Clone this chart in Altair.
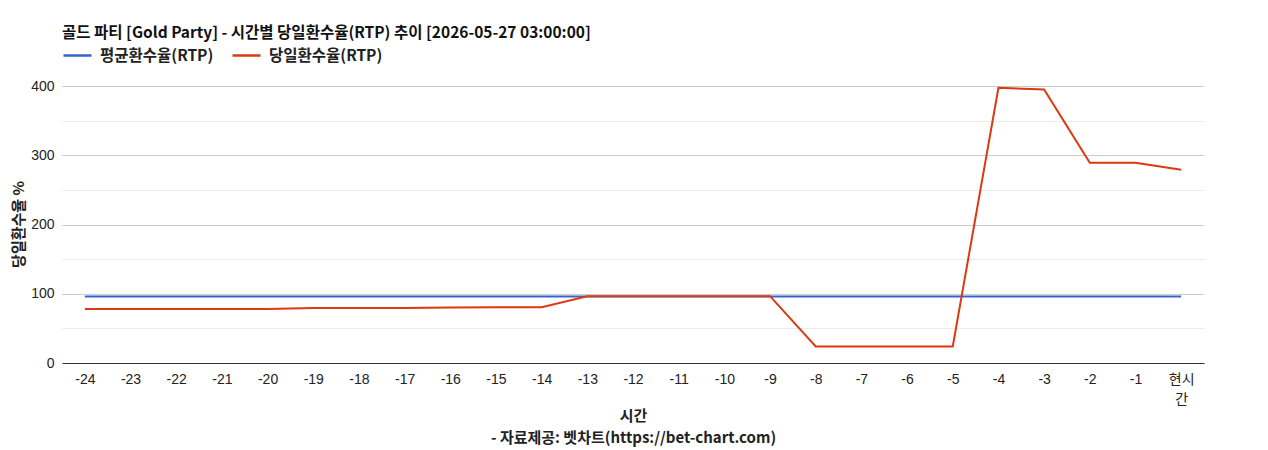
import altair as alt
import pandas as pd

hours = ["-24", "-23", "-22", "-21", "-20", "-19", "-18", "-17", "-16", "-15",
         "-14", "-13", "-12", "-11", "-10", "-9", "-8", "-7", "-6", "-5",
         "-4", "-3", "-2", "-1", "현시간"]
avg_rtp = [96] * 25
day_rtp = [78, 78, 78, 78, 78, 79.5, 79.5, 79.5, 80, 80.5,
           80.5, 96.5, 96.5, 96.5, 96.5, 96.5, 24, 24, 24, 24,
           397.5, 395, 289, 289, 279]
series_names = ["평균환수율(RTP)", "당일환수율(RTP)"]
series_colors = ["#3366cc", "#dc3912"]

title_text = "골드 파티 [Gold Party] - 시간별 당일환수율(RTP) 추이 [2026-05-27 03:00:00]"
x_title = ["시간", "- 자료제공: 벳차트(https://bet-chart.com)"]
y_title = "당일환수율 %"

rows = []
for h, a, d in zip(hours, avg_rtp, day_rtp):
    rows.append({"hour": h, "series": series_names[0], "value": a})
    rows.append({"hour": h, "series": series_names[1], "value": d})
df = pd.DataFrame(rows)

KR = "Noto Sans CJK KR"
LAT = "Liberation Sans, Noto Sans CJK KR"

W, H = 1142, 277

chart = alt.Chart(df).mark_line(strokeWidth=2).encode(
    x=alt.X("hour:N", sort=hours,
            axis=alt.Axis(title=x_title, labelAngle=0, ticks=False, grid=False,
                          domainColor="#333333", domainWidth=1,
                          labelFont=LAT, labelFontSize=14, labelColor="#222222",
                          labelPadding=9,
                          labelExpr="datum.label == '현시간' ? ['현시', '간'] : datum.label",
                          labelLineHeight=20,
                          titleFont=KR, titleFontSize=15, titleFontWeight="bold",
                          titleColor="#222222", titleLineHeight=22,
                          titleY=52, titleBaseline="middle")),
    y=alt.Y("value:Q", scale=alt.Scale(domain=[0, 400], nice=False),
            axis=alt.Axis(title=y_title, values=list(range(0, 401, 50)),
                          labelExpr="datum.value % 100 == 0 ? datum.label : ''",
                          ticks=False, domain=False,
                          gridColor={"condition": {"test": "datum.value % 100 === 0", "value": "#cccccc"}, "value": "#ebebeb"},
                          labelFont=LAT, labelFontSize=14, labelColor="#222222",
                          labelPadding=8,
                          titleFont=KR, titleFontSize=15, titleFontWeight="bold",
                          titleColor="#222222", titleX=-44, titleY=138,
                          titleAngle=-90, titleAlign="center", titleBaseline="middle")),
    color=alt.Color("series:N", sort=series_names,
                    scale=alt.Scale(domain=series_names, range=series_colors),
                    legend=alt.Legend(title=None, orient="none", legendX=0, legendY=-46,
                                      direction="horizontal", symbolType="stroke",
                                      symbolSize=784, symbolStrokeWidth=2.5,
                                      labelFont=KR, labelFontSize=15.5, labelFontWeight="bold",
                                      labelColor="#222222", labelOffset=7, columnPadding=13)),
).properties(
    width=W, height=H,
    title=alt.TitleParams(title_text, anchor="start", frame="group", font=KR, fontSize=15.5,
                          fontWeight="bold", color="#111111", offset=-1),
    autosize=alt.AutoSizeParams(type="none"),
    padding={"left": 54, "top": 78, "right": 56, "bottom": 84},
).configure_view(stroke=None)

chart.save("out.html", embed_options={"renderer": "svg", "actions": False})
